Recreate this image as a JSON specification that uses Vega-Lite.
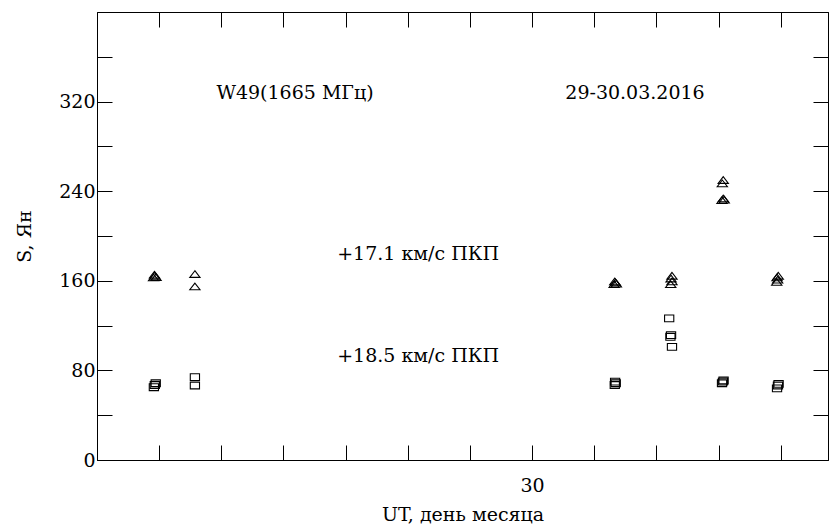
{
  "$schema": "https://vega.github.io/schema/vega-lite/v6.json",
  "width": 731,
  "height": 448,
  "autosize": "none",
  "padding": {"left": 97, "top": 12, "right": 10, "bottom": 67},
  "background": "white",
  "config": {
    "view": {"stroke": "black", "strokeWidth": 1},
    "font": "DejaVu Serif",
    "axis": {
      "grid": false,
      "domainColor": "black",
      "domainWidth": 1,
      "tickColor": "black",
      "tickWidth": 1,
      "labelColor": "black",
      "labelFont": "DejaVu Serif",
      "labelFontSize": 19,
      "titleFont": "DejaVu Serif",
      "titleFontSize": 19,
      "titleFontWeight": "normal",
      "titleColor": "black"
    }
  },
  "datasets": {
    "points": [
      {"ut_hours": 11.82, "S": 163, "series": "+17.1"},
      {"ut_hours": 11.86, "S": 164.5, "series": "+17.1"},
      {"ut_hours": 11.9, "S": 163.2, "series": "+17.1"},
      {"ut_hours": 11.85, "S": 165.5, "series": "+17.1"},
      {"ut_hours": 13.15, "S": 166, "series": "+17.1"},
      {"ut_hours": 13.15, "S": 155, "series": "+17.1"},
      {"ut_hours": 26.64, "S": 157, "series": "+17.1"},
      {"ut_hours": 26.68, "S": 158.5, "series": "+17.1"},
      {"ut_hours": 26.71, "S": 157.5, "series": "+17.1"},
      {"ut_hours": 26.66, "S": 159.5, "series": "+17.1"},
      {"ut_hours": 28.46, "S": 157, "series": "+17.1"},
      {"ut_hours": 28.5, "S": 159.5, "series": "+17.1"},
      {"ut_hours": 28.47, "S": 162, "series": "+17.1"},
      {"ut_hours": 28.5, "S": 164.5, "series": "+17.1"},
      {"ut_hours": 30.12, "S": 247, "series": "+17.1"},
      {"ut_hours": 30.15, "S": 250, "series": "+17.1"},
      {"ut_hours": 30.11, "S": 232, "series": "+17.1"},
      {"ut_hours": 30.15, "S": 233.5, "series": "+17.1"},
      {"ut_hours": 30.18, "S": 232.5, "series": "+17.1"},
      {"ut_hours": 31.87, "S": 159, "series": "+17.1"},
      {"ut_hours": 31.9, "S": 161, "series": "+17.1"},
      {"ut_hours": 31.88, "S": 163, "series": "+17.1"},
      {"ut_hours": 31.92, "S": 164.5, "series": "+17.1"},
      {"ut_hours": 11.83, "S": 65, "series": "+18.5"},
      {"ut_hours": 11.86, "S": 67, "series": "+18.5"},
      {"ut_hours": 11.89, "S": 68.5, "series": "+18.5"},
      {"ut_hours": 13.15, "S": 74, "series": "+18.5"},
      {"ut_hours": 13.15, "S": 66.5, "series": "+18.5"},
      {"ut_hours": 26.66, "S": 67, "series": "+18.5"},
      {"ut_hours": 26.69, "S": 68.5, "series": "+18.5"},
      {"ut_hours": 26.67, "S": 70, "series": "+18.5"},
      {"ut_hours": 28.41, "S": 126.5, "series": "+18.5"},
      {"ut_hours": 28.45, "S": 110, "series": "+18.5"},
      {"ut_hours": 28.47, "S": 111.5, "series": "+18.5"},
      {"ut_hours": 28.5, "S": 101, "series": "+18.5"},
      {"ut_hours": 30.11, "S": 68.5, "series": "+18.5"},
      {"ut_hours": 30.14, "S": 70, "series": "+18.5"},
      {"ut_hours": 30.16, "S": 71, "series": "+18.5"},
      {"ut_hours": 31.88, "S": 64, "series": "+18.5"},
      {"ut_hours": 31.91, "S": 66.5, "series": "+18.5"},
      {"ut_hours": 31.93, "S": 68, "series": "+18.5"}
    ],
    "notes": [
      {"ut_hours": 16.37, "S": 327.7, "label": "W49(1665 МГц)"},
      {"ut_hours": 27.31, "S": 327.7, "label": "29-30.03.2016"},
      {"ut_hours": 20.33, "S": 184, "label": "+17.1 км/с ПКП"},
      {"ut_hours": 20.33, "S": 92.9, "label": "+18.5 км/с ПКП"}
    ]
  },
  "layer": [
    {
      "data": {"name": "points"},
      "mark": {"type": "point", "filled": false, "stroke": "black", "strokeWidth": 1.1, "size": 105, "opacity": 1},
      "encoding": {
        "x": {
          "field": "ut_hours", "type": "quantitative",
          "scale": {"domain": [10, 33.52], "nice": false, "zero": false},
          "axis": {
            "orient": "bottom",
            "values": [12, 14, 16, 18, 20, 22, 24, 26, 28, 30, 32],
            "labelExpr": "datum.value == 24 ? '30' : ''",
            "tickSize": -15,
            "labelPadding": 31,
            "labelBaseline": "top",
            "title": "UT, день месяца",
            "titlePadding": 10
          }
        },
        "y": {
          "field": "S", "type": "quantitative",
          "scale": {"domain": [0, 400], "nice": false},
          "axis": {
            "orient": "left",
            "values": [0, 40, 80, 120, 160, 200, 240, 280, 320, 360],
            "labelExpr": "datum.value % 80 == 0 ? datum.label : ''",
            "tickSize": -15,
            "labelPadding": 17,
            "title": "S, Ян",
            "titlePadding": 24
          }
        },
        "shape": {
          "field": "series", "type": "nominal",
          "scale": {"domain": ["+17.1", "+18.5"], "range": ["M0,-0.65L-1,0.65L1,0.65Z", "M-0.9,-0.66L0.9,-0.66L0.9,0.66L-0.9,0.66Z"]},
          "legend": null
        }
      }
    },
    {
      "data": {"name": "notes"},
      "mark": {"type": "text", "fontSize": 19, "font": "DejaVu Serif", "color": "black", "align": "center", "baseline": "middle"},
      "encoding": {
        "x": {
          "field": "ut_hours", "type": "quantitative",
          "scale": {"domain": [10, 33.52], "nice": false, "zero": false},
          "axis": {
            "orient": "top",
            "values": [12, 14, 16, 18, 20, 22, 24, 26, 28, 30, 32],
            "labels": false,
            "tickSize": -15,
            "title": null
          }
        },
        "y": {
          "field": "S", "type": "quantitative",
          "scale": {"domain": [0, 400], "nice": false},
          "axis": {
            "orient": "right",
            "values": [40, 80, 120, 160, 200, 240, 280, 320, 360],
            "labels": false,
            "tickSize": -15,
            "title": null
          }
        },
        "text": {"field": "label"}
      }
    }
  ]
}
